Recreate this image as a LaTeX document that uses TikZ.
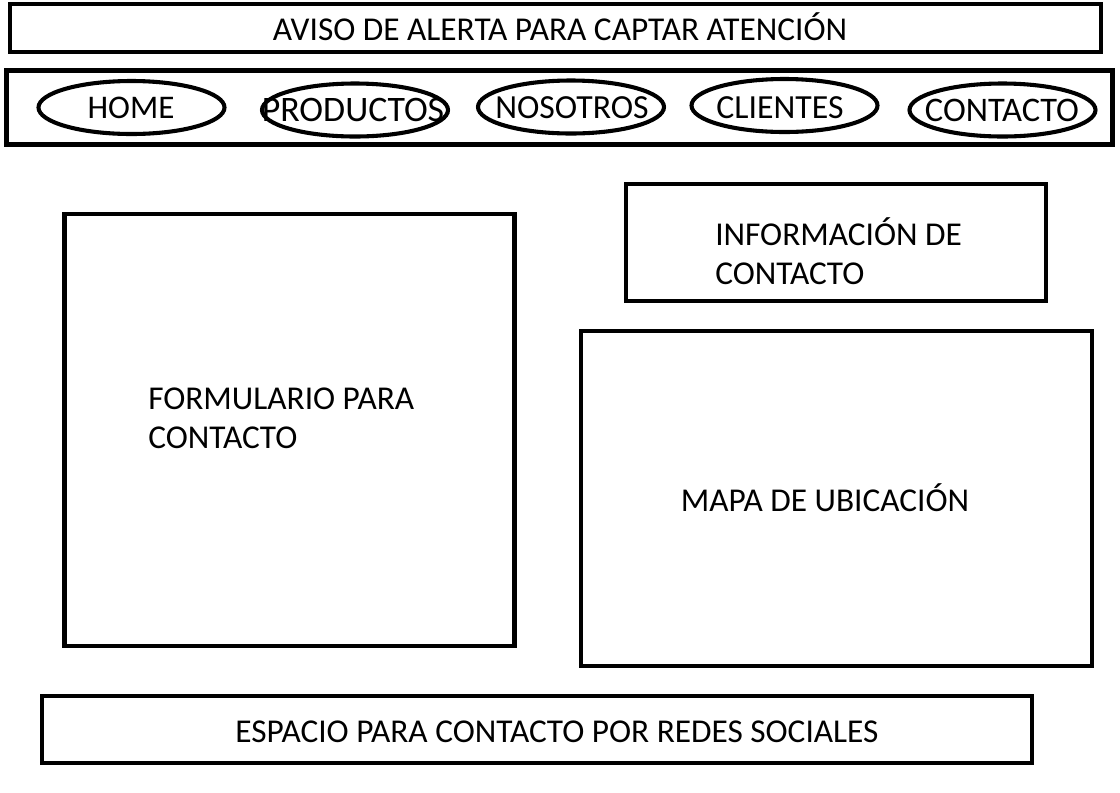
\documentclass[tikz,border=0pt]{standalone}
\usepackage{fontspec}
\setmainfont{Carlito}
\usepackage{tikz}
\usetikzlibrary{positioning, shapes.geometric}
\newcommand{\PX}{0.025cm}

\tikzset{
	box/.style={draw, rectangle, line width=3pt, inner sep=0pt},
	navbtn/.style={draw, ellipse, line width=2.9pt, inner sep=0pt, minimum width=186*\PX, minimum height=53*\PX},
	lbl/.style={inner sep=0pt, font=\fontsize{23.7}{27.7}\selectfont},
}

\begin{document}
\begin{tikzpicture}[x=0.025cm, y=-0.025cm]
		
		\useasboundingbox (0,0) rectangle (1120,792);
		
		% Alert banner
		\node[box, minimum width=1091*\PX, minimum height=48*\PX] (aviso) at (555.5,28) {};
		\node[lbl, anchor=base] (avisoTxt) at (560,40) {AVISO DE ALERTA PARA CAPTAR ATENCIÓN};
		
		% Menu bar
		\node[box, minimum width=1106*\PX, minimum height=74*\PX] (menu) at (559.5,107.5) {};
		\foreach \cx/\cy/\tx/\ty/\fs/\nm/\lab in {131.5/107.5/131/118/23.5/home/HOME, 355/110/353/121/25.5/productos/PRODUCTOS, 571/107/572/118/24/nosotros/NOSOTROS, 784.5/105.5/780/118/24/clientes/CLIENTES, 1002.5/110/1002/121/24.5/contacto/CONTACTO}
		{
			\node[navbtn] (\nm) at (\cx,\cy) {};
			\node[lbl, anchor=base, font=\fontsize{\fs}{\fs}\selectfont] (\nm-txt) at (\tx,\ty) {\lab};
		}
		
		% Contact form
		\node[box, minimum width=450*\PX, minimum height=432*\PX] (form) at (289.5,430) {};
		\node[lbl, align=left, anchor=base west] (formTxt) at (148,448) {FORMULARIO PARA\\CONTACTO};
		
		% Contact info
		\node[box, minimum width=420*\PX, minimum height=117*\PX] (info) at (836,242.5) {};
		\node[lbl, align=left, anchor=base west] (infoTxt) at (715,284) {INFORMACIÓN DE\\CONTACTO};
		
		% Map
		\node[box, minimum width=511*\PX, minimum height=335*\PX] (mapa) at (836.5,498.5) {};
		\node[lbl, anchor=base] (mapaTxt) at (825,511) {MAPA DE UBICACIÓN};
		
		% Social networks
		\node[box, minimum width=990*\PX, minimum height=67*\PX] (redes) at (537,729.5) {};
		\node[lbl, anchor=base] (redesTxt) at (557,742) {ESPACIO PARA CONTACTO POR REDES SOCIALES};
		
	\end{tikzpicture}
\end{document}
